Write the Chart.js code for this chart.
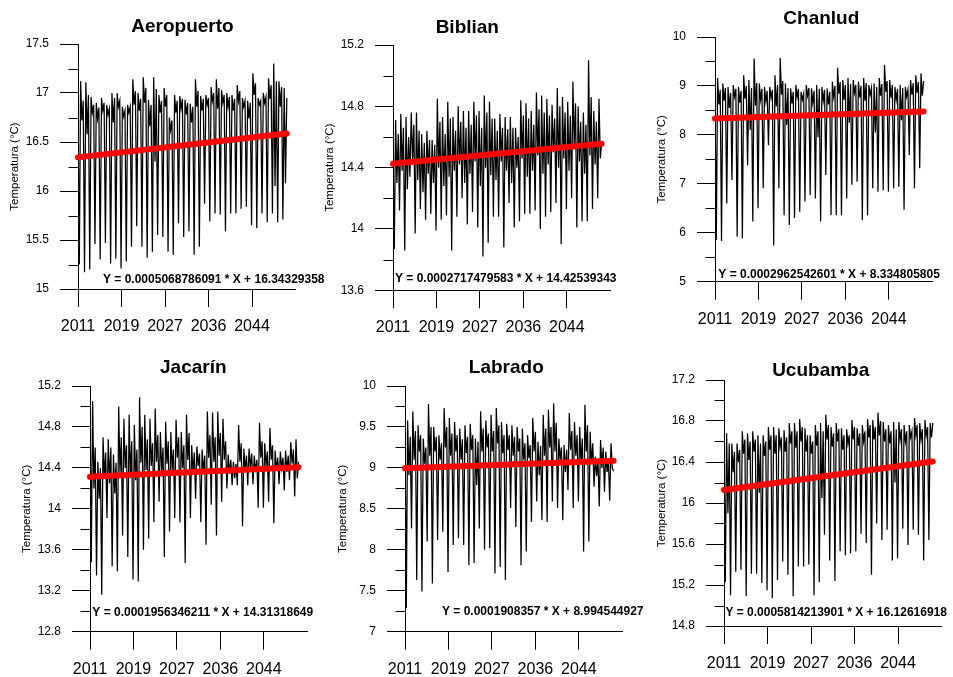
<!DOCTYPE html>
<html>
<head>
<meta charset="utf-8">
<script src="https://cdn.jsdelivr.net/npm/chart.js@4.4.1/dist/chart.umd.min.js"></script>
<style>
  body { margin: 0; background: #fff; width: 953px; height: 677px; overflow: hidden; position: relative; }
  canvas { position: absolute; }
</style>
</head>
<body>
<script>
// Station names and the regression printed under each series
const stations = ['Aeropuerto', 'Biblian', 'Chanlud', 'Jacarín', 'Labrado', 'Ucubamba'];
const slopes = [0.0005068786091, 0.0002717479583, 0.0002962542601, 0.0001956346211, 0.0001908357, 0.0005814213901];
const intercepts = [16.34329358, 14.42539343, 8.334805805, 14.31318649, 8.994544927, 16.12616918];

// Y axis ranges and label steps
const yRanges = [[15, 17.5], [13.6, 15.2], [5, 10], [12.8, 15.2], [7, 10], [14.8, 17.2]];
const yMajorSteps = [0.5, 0.4, 1, 0.4, 0.5, 0.4];

// X axis: month index, one tick every 100 months, labelled with the year
const firstYear = 2011;
const xTickStep = 100;
const xMaxMonth = 500;
const sampleStep = 3; // months between two values below

// Temperature series (°C), one line = two years
const aeropuerto = [16.80,
  15.25, 17.12, 16.72, 16.92, 15.17, 17.11, 16.58, 16.98,
  15.20, 16.96, 16.80, 16.88, 15.46, 16.90, 16.74, 16.85,
  15.30, 16.95, 16.82, 16.90, 15.47, 16.88, 16.78, 16.84,
  15.26, 17.00, 16.70, 16.95, 15.31, 17.00, 16.86, 16.92,
  15.21, 16.86, 16.76, 16.82, 15.28, 16.88, 16.80, 16.86,
  15.43, 17.14, 16.88, 17.02, 15.64, 17.00, 16.82, 16.94,
  15.43, 17.16, 16.90, 17.05, 15.32, 16.93, 16.66, 16.88,
  15.38, 17.16, 16.30, 17.04, 15.55, 16.98, 16.80, 16.92,
  15.53, 17.05, 16.86, 16.98, 15.38, 16.75, 16.62, 16.72,
  15.35, 16.98, 16.80, 16.92, 15.67, 16.97, 16.84, 16.94,
  15.53, 16.93, 16.78, 16.90, 15.59, 16.89, 16.70, 16.86,
  15.35, 17.14, 16.86, 17.02, 15.43, 16.97, 16.82, 16.94,
  15.87, 16.98, 16.88, 16.95, 15.69, 17.06, 16.92, 17.00,
  15.77, 17.14, 16.84, 17.05, 15.76, 17.03, 16.90, 16.98,
  15.59, 17.00, 16.86, 16.96, 15.77, 16.98, 16.82, 16.94,
  15.77, 17.08, 16.92, 17.02, 15.82, 16.95, 16.86, 16.92,
  15.84, 16.92, 16.74, 16.90, 15.65, 17.20, 16.98, 17.10,
  15.62, 16.95, 16.88, 16.92, 15.77, 17.00, 16.90, 16.96,
  15.68, 17.15, 16.94, 17.08, 15.77, 17.30, 16.05, 17.12,
  15.68, 17.12, 16.86, 17.06, 15.71, 17.05, 16.08, 16.95];

const biblian = [14.53,
  13.87, 14.71, 14.30, 14.62, 14.12, 14.75, 14.38, 14.66,
  13.86, 14.73, 14.26, 14.60, 14.34, 14.76, 14.45, 14.68,
  13.97, 14.76, 14.32, 14.64, 14.13, 14.62, 14.24, 14.56,
  14.06, 14.64, 14.36, 14.58, 14.10, 14.58, 14.30, 14.55,
  13.99, 14.85, 14.40, 14.70, 14.06, 14.73, 14.28, 14.62,
  14.09, 14.83, 14.34, 14.72, 13.86, 14.73, 14.38, 14.64,
  14.08, 14.80, 14.42, 14.70, 14.20, 14.77, 14.30, 14.66,
  14.03, 14.77, 14.36, 14.68, 14.11, 14.83, 14.44, 14.74,
  14.01, 14.77, 14.28, 14.66, 13.82, 14.87, 14.40, 14.76,
  13.91, 14.83, 14.35, 14.72, 14.08, 14.72, 14.32, 14.64,
  14.08, 14.75, 14.44, 14.66, 13.88, 14.73, 14.38, 14.65,
  14.17, 14.73, 14.30, 14.66, 14.01, 14.66, 14.40, 14.60,
  14.05, 14.84, 14.46, 14.74, 14.10, 14.82, 14.34, 14.72,
  14.10, 14.77, 14.38, 14.68, 14.12, 14.89, 14.48, 14.78,
  14.00, 14.87, 14.36, 14.76, 14.08, 14.85, 14.42, 14.74,
  14.11, 14.81, 14.50, 14.72, 14.17, 14.92, 14.40, 14.80,
  13.90, 14.86, 14.46, 14.76, 14.13, 14.83, 14.38, 14.74,
  14.20, 14.96, 14.52, 14.82, 14.01, 14.80, 14.44, 14.70,
  14.05, 14.76, 14.36, 14.68, 14.05, 15.10, 14.48, 14.86,
  14.13, 14.77, 14.42, 14.70, 14.20, 14.85, 14.46, 14.56];

const chanlud = [8.88,
  5.85, 9.16, 8.62, 8.92, 5.83, 9.05, 8.70, 8.96,
  6.60, 8.98, 8.55, 8.86, 7.08, 9.02, 8.78, 8.94,
  5.92, 8.98, 8.66, 8.90, 5.89, 9.22, 8.74, 9.00,
  7.38, 9.12, 8.10, 8.96, 6.23, 9.56, 8.60, 9.06,
  6.50, 9.05, 8.72, 8.94, 6.91, 8.98, 8.68, 8.90,
  7.79, 8.98, 8.76, 8.92, 5.74, 9.22, 8.58, 9.02,
  6.91, 9.57, 8.82, 9.10, 6.36, 9.05, 8.20, 8.96,
  6.16, 8.95, 8.64, 8.88, 6.30, 9.02, 8.78, 8.94,
  6.43, 8.88, 8.72, 8.84, 6.64, 9.02, 8.80, 8.96,
  6.77, 8.95, 8.66, 8.90, 6.70, 9.02, 7.95, 8.94,
  6.23, 8.98, 8.70, 8.92, 7.18, 8.95, 8.62, 8.88,
  6.36, 9.09, 8.78, 9.00, 6.36, 9.37, 8.84, 9.08,
  6.36, 9.12, 8.72, 9.02, 6.70, 9.16, 8.25, 9.04,
  6.98, 9.12, 8.86, 9.02, 7.04, 9.09, 8.76, 9.00,
  6.26, 9.16, 8.70, 9.06, 6.36, 9.02, 8.82, 8.96,
  6.91, 9.05, 8.05, 8.98, 6.84, 9.16, 8.80, 9.04,
  6.87, 9.43, 8.88, 9.10, 6.84, 9.12, 8.76, 9.02,
  6.91, 8.98, 8.72, 8.94, 6.94, 9.02, 8.30, 8.96,
  6.47, 8.98, 8.78, 8.92, 7.59, 9.12, 8.82, 9.06,
  6.91, 9.22, 8.86, 9.08, 7.32, 9.26, 8.80, 9.10];

const jacarin = [15.06,
  13.48, 15.05, 14.20, 14.60, 13.35, 14.46, 14.10, 14.40,
  13.16, 14.70, 14.30, 14.55, 13.91, 14.68, 14.25, 14.60,
  13.44, 14.53, 14.15, 14.45, 13.39, 15.00, 14.35, 14.70,
  13.74, 14.88, 14.40, 14.62, 13.53, 14.92, 14.30, 14.66,
  13.31, 14.82, 14.28, 14.58, 13.29, 15.09, 14.45, 14.80,
  13.60, 14.92, 14.38, 14.68, 13.71, 14.88, 14.42, 14.64,
  13.87, 14.98, 14.46, 14.72, 14.07, 14.75, 14.36, 14.60,
  13.53, 14.85, 14.44, 14.66, 13.78, 14.75, 14.38, 14.58,
  13.91, 14.87, 14.50, 14.70, 13.87, 14.75, 14.40, 14.62,
  13.47, 14.92, 14.48, 14.74, 13.91, 14.62, 14.34, 14.55,
  14.10, 14.61, 14.42, 14.54, 13.87, 14.58, 14.36, 14.52,
  13.65, 14.95, 14.50, 14.72, 14.04, 14.94, 14.46, 14.70,
  13.74, 14.95, 14.52, 14.74, 14.07, 14.88, 14.48, 14.66,
  14.20, 14.53, 14.34, 14.48, 14.23, 14.46, 14.30, 14.44,
  14.23, 14.82, 14.46, 14.64, 13.83, 14.59, 14.38, 14.52,
  14.23, 14.59, 14.40, 14.54, 14.24, 14.52, 14.36, 14.48,
  14.01, 14.84, 14.50, 14.66, 14.01, 14.64, 14.42, 14.56,
  14.07, 14.79, 14.48, 14.62, 13.86, 14.57, 14.38, 14.50,
  14.24, 14.56, 14.40, 14.50, 14.18, 14.57, 14.36, 14.52,
  14.28, 14.65, 14.44, 14.58, 14.12, 14.68, 14.30, 14.46];

const labrado = [9.52,
  7.29, 9.58, 8.91, 9.38, 8.26, 9.69, 9.10, 9.45,
  7.63, 9.52, 9.20, 9.40, 7.49, 9.36, 9.05, 9.25,
  8.10, 9.78, 9.15, 9.50, 7.59, 9.50, 9.20, 9.38,
  8.12, 9.40, 9.10, 9.30, 8.22, 9.73, 9.25, 9.50,
  7.73, 9.61, 9.15, 9.42, 8.06, 9.56, 9.20, 9.40,
  8.14, 9.48, 9.10, 9.35, 8.06, 9.52, 9.18, 9.38,
  7.81, 9.54, 9.22, 9.40, 7.84, 9.36, 8.79, 9.32,
  8.26, 9.69, 9.20, 9.48, 8.00, 9.58, 9.25, 9.42,
  8.02, 9.65, 9.20, 9.45, 7.71, 9.73, 9.30, 9.52,
  7.79, 9.56, 9.18, 9.40, 7.63, 9.54, 9.22, 9.40,
  8.51, 9.52, 9.15, 9.38, 8.28, 9.50, 9.20, 9.36,
  7.81, 9.48, 9.10, 9.30, 7.98, 9.40, 9.12, 9.28,
  8.34, 9.61, 9.20, 9.44, 8.59, 9.32, 8.91, 9.27,
  8.36, 9.65, 9.15, 9.48, 8.34, 9.71, 9.25, 9.50,
  8.59, 9.79, 9.20, 9.55, 8.51, 9.36, 9.10, 9.25,
  8.36, 9.28, 8.95, 9.22, 8.73, 9.67, 9.22, 9.45,
  8.51, 9.56, 9.15, 9.40, 8.59, 9.50, 9.05, 9.36,
  7.98, 9.77, 9.20, 9.52, 8.10, 9.44, 9.05, 9.30,
  8.77, 9.14, 8.90, 9.10, 8.53, 9.34, 9.00, 9.25,
  8.71, 9.20, 8.95, 9.10, 8.60, 9.30, 9.00, 8.96];

const ucubamba = [16.63,
  15.23, 16.68, 15.90, 16.58, 15.10, 16.58, 16.30, 16.50,
  15.33, 16.58, 16.40, 16.52, 15.35, 16.70, 16.48, 16.62,
  15.09, 16.68, 16.42, 16.60, 15.31, 16.70, 16.50, 16.62,
  15.31, 16.66, 16.10, 16.58, 15.22, 16.66, 16.46, 16.60,
  15.15, 16.74, 16.52, 16.66, 15.07, 16.74, 16.48, 16.66,
  15.25, 16.73, 16.55, 16.64, 15.43, 16.71, 16.50, 16.64,
  15.30, 16.78, 16.58, 16.70, 15.09, 16.78, 16.54, 16.70,
  15.38, 16.82, 16.60, 16.74, 15.38, 16.73, 16.50, 16.66,
  15.40, 16.66, 16.48, 16.60, 15.10, 16.76, 16.56, 16.70,
  15.23, 16.78, 16.05, 16.70, 15.69, 16.86, 16.62, 16.76,
  15.44, 16.74, 16.55, 16.68, 15.24, 16.78, 16.60, 16.72,
  15.53, 16.73, 16.52, 16.66, 15.49, 16.72, 16.58, 16.66,
  15.51, 16.81, 16.62, 16.74, 15.53, 16.73, 16.56, 16.68,
  15.70, 16.76, 16.60, 16.70, 15.61, 16.82, 16.64, 16.76,
  15.30, 16.81, 16.62, 16.74, 15.80, 16.88, 16.66, 16.80,
  15.64, 16.79, 16.60, 16.72, 15.74, 16.76, 16.58, 16.70,
  15.44, 16.79, 16.20, 16.72, 15.46, 16.79, 16.62, 16.72,
  15.75, 16.76, 16.60, 16.70, 15.59, 16.76, 16.64, 16.70,
  15.74, 16.83, 16.66, 16.76, 15.69, 16.78, 16.62, 16.72,
  15.44, 16.81, 16.66, 16.74, 15.64, 16.78, 16.64, 16.78];

const seriesList = [aeropuerto, biblian, chanlud, jacarin, labrado, ucubamba];

// Page placement of each panel: plot box (left, top, right at month 500, bottom),
// title centre, equation start, distance from y axis to its title
const panelLayout = [
  { plot: [78, 44, 295.5, 289],     title: [182.5, 27], eq: [103, 280],   yGap: 63 },
  { plot: [392.7, 44.7, 610, 290],  title: [467, 27],   eq: [394.7, 278], yGap: 63 },
  { plot: [714.7, 37, 932, 281.7],  title: [821, 19],   eq: [718, 275],   yGap: 53 },
  { plot: [89.7, 386, 307, 631.7],  title: [193, 368],  eq: [92, 613],    yGap: 63 },
  { plot: [404.7, 386, 622, 631.7], title: [506, 368],  eq: [441.7, 612], yGap: 62 },
  { plot: [724.3, 380, 941.8, 626], title: [821, 371],  eq: [725.7, 613], yGap: 62 }
];

const FONT = "'Liberation Sans', Arial, Helvetica, sans-serif";
const CANVAS_W = 330, CANVAS_H = 345, X_AXIS_H = 45;

function isMajor(v, min, step) {
  const k = (v - min) / step;
  return Math.abs(k - Math.round(k)) < 1e-6;
}

// Short minor ticks on the y axis, title and regression text
const panelText = {
  id: 'panelText',
  afterDraw(chart, args, opts) {
    const ctx = chart.ctx;
    const ys = chart.scales.y;
    const x0 = Math.round(chart.chartArea.left) + 0.5;
    ctx.save();
    ctx.strokeStyle = '#000';
    ctx.lineWidth = 1;
    ys.ticks.forEach(t => {
      if (!isMajor(t.value, opts.yMin, opts.yMajor)) {
        const py = Math.round(ys.getPixelForValue(t.value)) + 0.5;
        ctx.beginPath();
        ctx.moveTo(x0 - 10, py);
        ctx.lineTo(x0, py);
        ctx.stroke();
      }
    });
    ctx.fillStyle = '#000';
    ctx.textBaseline = 'middle';
    ctx.textAlign = 'center';
    ctx.font = 'bold 19px ' + FONT;
    ctx.fillText(opts.title, opts.tx, opts.ty);
    ctx.textAlign = 'left';
    ctx.font = 'bold 12px ' + FONT;
    ctx.fillText(opts.eq, opts.ex, opts.ey);
    ctx.restore();
  }
};

function makePanel(i) {
  const lay = panelLayout[i];
  const [pl, pt, pr, pb] = lay.plot;
  const left = pl - 78, top = pt - 44;
  const cv = document.createElement('canvas');
  cv.width = CANVAS_W;
  cv.height = CANVAS_H;
  cv.style.left = left + 'px';
  cv.style.top = top + 'px';
  document.body.appendChild(cv);

  const [yMin, yMax] = yRanges[i];
  const yMajor = yMajorSteps[i];
  const yWidth = lay.yGap + 10.9;
  const lastMonth = (seriesList[i].length - 1) * sampleStep;

  const points = seriesList[i].map((v, k) => ({ x: k * sampleStep, y: v }));
  const trend = [
    { x: 0, y: intercepts[i] },
    { x: lastMonth, y: intercepts[i] + slopes[i] * lastMonth }
  ];

  new Chart(cv, {
    type: 'line',
    data: {
      datasets: [
        { data: trend, borderColor: '#ff0000', borderWidth: 6, borderCapStyle: 'round',
          pointRadius: 0, order: 0, clip: 8 },
        { data: points, borderColor: '#000', borderWidth: 1.25, pointRadius: 0,
          tension: 0, order: 1 }
      ]
    },
    options: {
      responsive: false,
      animation: false,
      devicePixelRatio: 1,
      layout: {
        padding: {
          left: 78 - yWidth,
          top: 44,
          right: CANVAS_W - (pr - left),
          bottom: CANVAS_H - (pb - top) - X_AXIS_H
        }
      },
      plugins: {
        legend: { display: false },
        tooltip: { enabled: false },
        panelText: {
          title: stations[i], tx: lay.title[0] - left, ty: lay.title[1] - top,
          eq: 'Y = ' + slopes[i] + ' * X + ' + intercepts[i],
          ex: lay.eq[0] - left, ey: lay.eq[1] - top,
          yMin: yMin, yMajor: yMajor
        }
      },
      scales: {
        x: {
          type: 'linear',
          min: 0,
          max: xMaxMonth,
          afterFit: s => { s.height = X_AXIS_H; },
          afterBuildTicks: s => { s.ticks = s.ticks.filter(t => t.value < xMaxMonth); },
          ticks: {
            stepSize: xTickStep,
            autoSkip: false,
            maxRotation: 0,
            padding: 10,
            color: '#000',
            font: { family: FONT, size: 16 },
            callback: v => String(firstYear + Math.floor(v / 12))
          },
          grid: { drawOnChartArea: false, tickLength: 18, color: '#000' },
          border: { color: '#000', width: 1 }
        },
        y: {
          min: yMin,
          max: yMax,
          afterFit: s => { s.width = yWidth; },
          ticks: {
            stepSize: yMajor / 2,
            maxTicksLimit: 50,
            autoSkip: false,
            padding: 11,
            color: '#000',
            font: { family: FONT, size: 12 },
            callback: v => isMajor(v, yMin, yMajor) ? String(+v.toFixed(2)) : ''
          },
          grid: {
            drawOnChartArea: false,
            tickLength: 18,
            color: c => (c.tick && isMajor(c.tick.value, yMin, yMajor)) ? '#000' : 'rgba(0,0,0,0)'
          },
          border: { color: '#000', width: 1 },
          title: {
            display: true,
            text: 'Temperatura (°C)',
            color: '#000',
            padding: { top: 4, bottom: 0 },
            font: { family: FONT, size: 11.5 }
          }
        }
      }
    },
    plugins: [panelText]
  });
}

stations.forEach((s, i) => makePanel(i));
</script>
</body>
</html>
